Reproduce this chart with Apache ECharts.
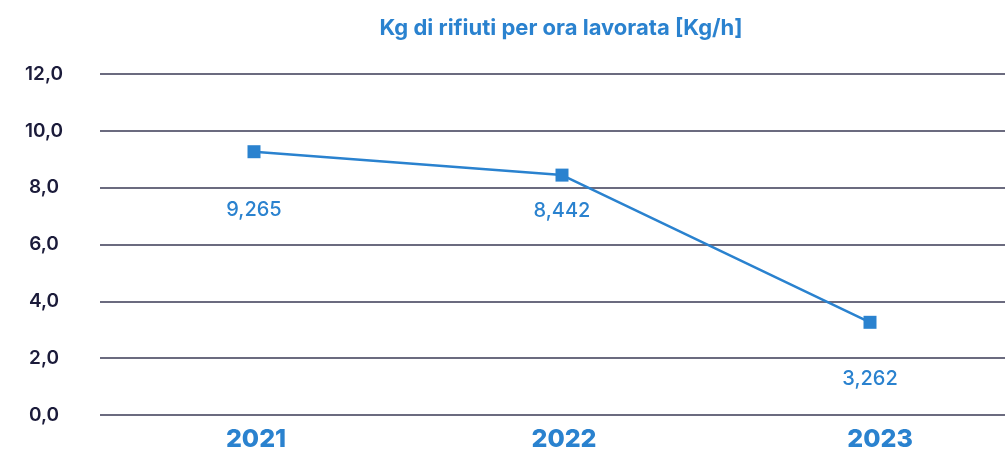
<!DOCTYPE html>
<html lang="it">
<head>
    <meta charset="UTF-8">
    <title>Kg di rifiuti per ora lavorata</title>
    <script src="https://cdn.jsdelivr.net/npm/echarts@6/dist/echarts.min.js"></script>
    <style>
        html, body { margin: 0; padding: 0; background: #fff; }
    </style>
</head>
<body>
<div id="main" style="width: 1005px;height:452px;"></div>
<script type="text/javascript">
    // dati
    var anni = ['2021', '2022', '2023'];
    var kgOra = [9.265, 8.442, 3.262];
    var yTicks = [0, 2, 4, 6, 8, 10, 12];

    var blu = '#2a82cf';
    var scuro = '#1b1b3a';
    // distanza etichetta sotto il punto
    var labelDist = [42, 19, 40];
    // piccolo spostamento delle etichette degli anni
    var annoPad = [4, 4, 20];

    var myChart = echarts.init(document.getElementById('main'));

    var option = {
        animation: false,
        title: {
            text: 'Kg di rifiuti per ora lavorata [Kg/h]',
            left: 556,
            top: 12,
            textAlign: 'center',
            textStyle: {
                color: blu,
                fontFamily: 'Inter',
                fontWeight: 'bold',
                fontSize: 22
            }
        },
        grid: {
            left: 100,
            top: 74,
            bottom: 37,
            width: 924,
            outerBoundsMode: 'none',
            containLabel: false
        },
        xAxis: {
            type: 'category',
            data: anni.map(function (a, i) {
                return { value: a, textStyle: { padding: [0, 0, 0, annoPad[i]] } };
            }),
            boundaryGap: true,
            axisLine: { show: false },
            axisTick: { show: false },
            axisLabel: {
                color: blu,
                fontFamily: 'Inter',
                fontWeight: 800,
                fontSize: 25,
                margin: 12
            }
        },
        yAxis: {
            type: 'value',
            min: yTicks[0],
            max: yTicks[yTicks.length - 1],
            interval: 2,
            axisLine: { show: false },
            axisTick: { show: false },
            splitLine: {
                lineStyle: { color: '#3a3a55', width: 1.5 }
            },
            axisLabel: {
                color: scuro,
                fontFamily: 'Inter',
                fontWeight: 600,
                fontSize: 19,
                align: 'center',
                margin: 56,
                formatter: function (v) {
                    return v.toFixed(1).replace('.', ',');
                }
            }
        },
        series: [{
            type: 'line',
            symbol: 'rect',
            symbolSize: 13,
            lineStyle: { color: blu, width: 2.5 },
            itemStyle: { color: blu },
            data: kgOra.map(function (v, i) {
                return { value: v, label: { distance: labelDist[i] } };
            }),
            label: {
                show: true,
                position: 'bottom',
                color: blu,
                fontFamily: 'Inter',
                fontWeight: 500,
                fontSize: 20,
                formatter: function (p) {
                    return p.value.toFixed(3).replace('.', ',');
                }
            }
        }]
    };

    myChart.setOption(option);
</script>
</body>
</html>
